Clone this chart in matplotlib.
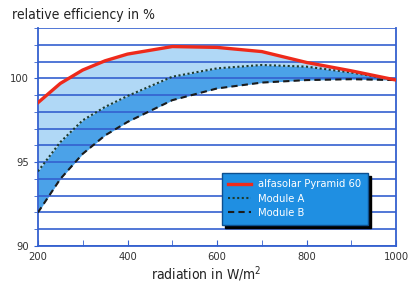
import matplotlib.pyplot as plt
from matplotlib.ticker import MultipleLocator

# --- DATA ---
radiation = [200, 250, 300, 350, 400, 500, 600, 700, 800, 900, 1000]
pyramid = [98.55, 99.7, 100.5, 101.05, 101.45, 101.9, 101.85, 101.6, 100.95, 100.45, 99.9]
module_a = [94.45, 96.2, 97.5, 98.3, 98.95, 100.1, 100.6, 100.8, 100.7, 100.35, 99.9]
module_b = [92.0, 94.0, 95.5, 96.6, 97.4, 98.7, 99.4, 99.75, 99.9, 99.95, 99.9]

GRID_BLUE = '#3460cf'
LIGHT_FILL = '#b0d8f6'
MID_FILL = '#4ba2e8'
LEGEND_BLUE = '#1f8fe2'
RED = '#ee2a1b'

# condensed face, closer to the original typeface
plt.rcParams['font.family'] = ['DejaVu Sans']
plt.rcParams['font.stretch'] = 'condensed'

fig = plt.figure(figsize=(4.08, 2.87), dpi=100)
ax = fig.add_axes([0.093, 0.143, 0.878, 0.759])

ax.fill_between(radiation, module_a, pyramid, color=LIGHT_FILL, lw=0, zorder=1)
ax.fill_between(radiation, module_b, module_a, color=MID_FILL, lw=0, zorder=1)

for y in range(90, 104):
    ax.axhline(y, color=GRID_BLUE, lw=1.2, zorder=2)

ax.plot(radiation, pyramid, color=RED, lw=2.4, zorder=4, label='alfasolar Pyramid 60')
ax.plot(radiation, module_a, color='#1d3b2e', lw=1.5, ls=(0, (1, 1.2)), zorder=3, label='Module A')
ax.plot(radiation, module_b, color='#1b1b1b', lw=1.5, ls=(0, (3, 2)), zorder=3, label='Module B')

ax.set_xlim(200, 1000)
ax.set_ylim(90, 103)
ax.set_xticks([200, 400, 600, 800, 1000])
ax.xaxis.set_minor_locator(MultipleLocator(100))
ax.set_yticks([90, 95, 100])
ax.yaxis.set_minor_locator(MultipleLocator(1))

for side in ['left', 'right', 'bottom']:
    ax.spines[side].set_color(GRID_BLUE)
    ax.spines[side].set_linewidth(1.3)
ax.spines['top'].set_visible(False)
ax.tick_params(axis='both', which='both', colors=GRID_BLUE, labelcolor='#333333', labelsize=8)
ax.tick_params(axis='x', which='both', direction='in', length=4, pad=4)
ax.tick_params(axis='y', which='both', direction='out', length=3)

ax.set_xlabel('radiation in W/m$^2$', fontsize=10, color='#222222', labelpad=2, x=0.47)
fig.text(0.03, 0.935, 'relative efficiency in %', fontsize=10, color='#222222')

leg = ax.legend(loc='lower right', bbox_to_anchor=(0.922, 0.096), borderaxespad=0,
                fontsize=8, facecolor=LEGEND_BLUE, edgecolor='#0d4f8f', framealpha=1,
                fancybox=False, shadow={'color': 'black', 'alpha': 1}, labelcolor='white',
                handlelength=2.0, borderpad=0.6, labelspacing=0.4, handletextpad=0.7)
leg.set_zorder(6)

fig.savefig('out.png', dpi=100)
